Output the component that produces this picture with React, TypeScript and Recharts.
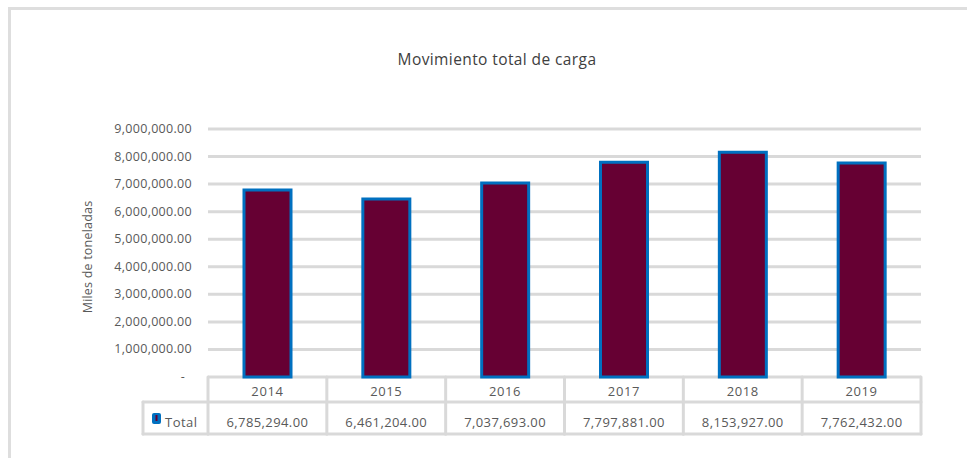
import React from 'react';
import { BarChart, Bar, XAxis, YAxis, CartesianGrid } from 'recharts';

const years = ['2014', '2015', '2016', '2017', '2018', '2019'];
const totals = [6785294, 6461204, 7037693, 7797881, 8153927, 7762432];
const yTicks = [0, 1000000, 2000000, 3000000, 4000000, 5000000, 6000000, 7000000, 8000000, 9000000];
const seriesName = 'Total';
const chartTitle = 'Movimiento total de carga';
const yAxisLabel = 'Miles de toneladas';

const data = years.map((y, i) => ({ year: y, total: totals[i] }));

const W = 967;
const H = 458;
const PLOT_LEFT = 208;
const PLOT_RIGHT = 921;
const PLOT_TOP = 129;
const PLOT_BOTTOM = 377;
const BAND = (PLOT_RIGHT - PLOT_LEFT) / years.length;
const ROW_MID = 402;
const ROW_BOT = 434;
const LEG_LEFT = 143;
const GRID = '#d9d9d9';
const TXT = '#595959';
const FONT = "'Open Sans', 'Liberation Sans', sans-serif";

const fmt = (v: number) =>
  v.toLocaleString('en-US', { minimumFractionDigits: 2, maximumFractionDigits: 2 });

const YTick = (props: any) => {
  const { y, payload } = props;
  const v = payload.value as number;
  return (
    <text
      x={v === 0 ? 185 : 192}
      y={y}
      dy={4}
      textAnchor="end"
      fontSize={12.5}
      fontFamily={FONT}
      fill={TXT}
      letterSpacing={0.3}
    >
      {v === 0 ? '-' : fmt(v)}
    </text>
  );
};

const XTick = (props: any) => {
  const { x, payload, index } = props;
  const left = x - BAND / 2;
  const right = x + BAND / 2;
  const ls = { stroke: GRID, strokeWidth: 3, strokeLinecap: 'round' as const };
  return (
    <g>
      <line x1={left} y1={PLOT_BOTTOM} x2={left} y2={ROW_BOT} {...ls} />
      {index === years.length - 1 && (
        <line x1={right} y1={PLOT_BOTTOM} x2={right} y2={ROW_BOT} {...ls} />
      )}
      <line x1={left} y1={ROW_MID} x2={right} y2={ROW_MID} {...ls} />
      <line x1={left} y1={ROW_BOT} x2={right} y2={ROW_BOT} {...ls} />
      <text x={x} y={396} textAnchor="middle" fontSize={13} fontFamily={FONT} fill={TXT} letterSpacing={0.6}>
        {payload.value}
      </text>
      <text x={x} y={427} textAnchor="middle" fontSize={13} fontFamily={FONT} fill={TXT} letterSpacing={0.4}>
        {fmt(data[index].total)}
      </text>
      {index === 0 && (
        <g>
          <line x1={LEG_LEFT} y1={ROW_MID} x2={left} y2={ROW_MID} {...ls} />
          <line x1={LEG_LEFT} y1={ROW_BOT} x2={left} y2={ROW_BOT} {...ls} />
          <line x1={LEG_LEFT} y1={ROW_MID} x2={LEG_LEFT} y2={ROW_BOT} {...ls} />
          <rect x={152} y={413} width={9} height={11} rx={2} fill="#0070c0" />
          <rect x={155.5} y={415} width={2} height={6} fill="#660033" />
          <text x={165} y={427} fontSize={13} fontFamily={FONT} fill={TXT} letterSpacing={0.5}>
            {seriesName}
          </text>
        </g>
      )}
    </g>
  );
};

export default function App() {
  return (
    <div style={{ position: 'absolute', left: 0, top: 0, width: W, height: H, background: '#fff' }}>
      <div
        style={{
          position: 'absolute',
          left: 8,
          top: 7,
          width: W - 8,
          height: H - 7,
          borderTop: '3px solid #dedede',
          borderLeft: '3px solid #dedede',
          boxSizing: 'border-box',
        }}
      />
      <div
        style={{
          position: 'absolute',
          left: 0,
          top: 49,
          width: 994,
          textAlign: 'center',
          fontFamily: FONT,
          fontSize: 15.5,
          letterSpacing: 0.4,
          color: '#404040',
          lineHeight: '20px',
        }}
      >
        {chartTitle}
      </div>
      <div
        style={{
          position: 'absolute',
          left: 87,
          top: 257,
          transform: 'translate(-50%, -50%) rotate(-90deg)',
          whiteSpace: 'nowrap',
          fontFamily: FONT,
          fontSize: 12.5,
          letterSpacing: 0.2,
          color: TXT,
        }}
      >
        {yAxisLabel}
      </div>
      <div style={{ position: 'absolute', left: 0, top: 0 }}>
        <BarChart
          width={W}
          height={H}
          data={data}
          margin={{ top: PLOT_TOP, right: W - PLOT_RIGHT, bottom: 0, left: PLOT_LEFT - 100 }}
          barSize={47}
        >
          <CartesianGrid horizontal vertical={false} stroke={GRID} strokeWidth={3} />
          <XAxis
            dataKey="year"
            height={H - PLOT_BOTTOM}
            axisLine={false}
            tickLine={false}
            tick={<XTick />}
            interval={0}
          />
          <YAxis
            width={100}
            domain={[0, 9000000]}
            ticks={yTicks}
            axisLine={false}
            tickLine={false}
            tick={<YTick />}
            interval={0}
          />
          <Bar
            dataKey="total"
            name={seriesName}
            fill="#660033"
            stroke="#0070c0"
            strokeWidth={3}
            isAnimationActive={false}
          />
        </BarChart>
      </div>
    </div>
  );
}
